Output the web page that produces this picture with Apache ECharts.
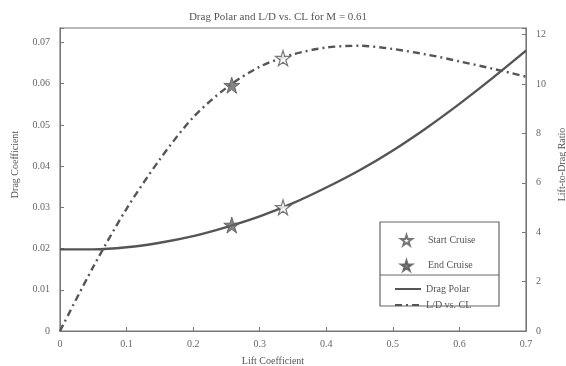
<!DOCTYPE html>
<html>
<head>
<meta charset="utf-8">
<script src="https://cdn.jsdelivr.net/npm/echarts@6/dist/echarts.min.js"></script>
<style>
  html, body { margin: 0; padding: 0; background: #fff; }
  #main { width: 566px; height: 366px; }
</style>
</head>
<body>
<div id="main"></div>
<script>
// lift coefficient samples
var liftCoef = [0, 0.05, 0.1, 0.15, 0.2, 0.25, 0.3, 0.35, 0.4, 0.45, 0.5, 0.55, 0.6, 0.65, 0.7];
var dragPolar = [0.0198, 0.0198, 0.0203, 0.0214, 0.0230, 0.0252, 0.0278, 0.0310, 0.0348, 0.0390, 0.0438, 0.0492, 0.0551, 0.0614, 0.0680];
var liftToDrag = [0, 2.6, 4.95, 6.95, 8.65, 9.85, 10.7, 11.2, 11.48, 11.55, 11.42, 11.2, 10.92, 10.62, 10.3];
// cruise points [CL, CD, L/D]
var startCruise = [0.335, 0.0300, 11.05];
var endCruise = [0.258, 0.0257, 9.95];

var starPath = 'path://M50,0 L61,35 L98,35 L68,57 L79,91 L50,70 L21,91 L32,57 L2,35 L39,35 Z';
var ink = '#555';
var serif = 'Liberation Serif';

function pairs(ys) {
    return liftCoef.map(function (x, i) { return [x, ys[i]]; });
}

var chart = echarts.init(document.getElementById('main'));
var option = {
    animation: false,
    backgroundColor: '#fff',
    textStyle: { fontFamily: serif },
    title: {
        text: 'Drag Polar and L/D vs. CL for M = 0.61',
        left: 273, top: 7, textAlign: 'center',
        textStyle: { fontFamily: serif, fontSize: 11, fontWeight: 'normal', color: ink }
    },
    grid: {
        left: 60, right: 40, top: 28, bottom: 35,
        outerBoundsMode: 'none', containLabel: false,
        show: true, borderColor: '#777', borderWidth: 1.2
    },
    legend: [
        {
            data: ['Start Cruise', 'End Cruise'],
            orient: 'vertical', left: 395, top: 229,
            itemWidth: 11, itemHeight: 11, itemGap: 13,
            textStyle: { fontFamily: serif, fontSize: 10, color: ink, padding: [0, 0, 0, 11] }
        },
        {
            data: ['Drag Polar', 'L/D vs. CL'],
            orient: 'vertical', left: 389, top: 279,
            itemWidth: 26, itemHeight: 8, itemGap: 6,
            itemStyle: { opacity: 0 },
            textStyle: { fontFamily: serif, fontSize: 10, color: ink }
        }
    ],
    graphic: [
        { type: 'rect', shape: { x: 380, y: 222, width: 119, height: 84 },
          style: { fill: '#fff', stroke: '#666', lineWidth: 1.2 }, z: 0 },
        { type: 'line', shape: { x1: 380, y1: 275, x2: 499, y2: 275 },
          style: { stroke: '#666', lineWidth: 1 }, z: 1 }
    ],
    xAxis: {
        type: 'value', min: 0, max: 0.7, interval: 0.1,
        name: 'Lift Coefficient', nameLocation: 'middle', nameGap: 25,
        nameTextStyle: { fontFamily: serif, fontSize: 10, color: ink, padding: [0, 40, 0, 0] },
        axisLine: { lineStyle: { color: '#777' } },
        axisTick: { inside: true, length: 4, lineStyle: { color: '#777' } },
        axisLabel: { fontFamily: serif, fontSize: 10, color: '#666', margin: 8 },
        splitLine: { show: false }
    },
    yAxis: [
        {
            type: 'value', min: 0, max: 0.0735, interval: 0.01,
            name: 'Drag Coefficient', nameLocation: 'middle', nameGap: 40,
            nameTextStyle: { fontFamily: serif, fontSize: 10, color: ink, padding: [0, 0, 0, 30] },
            axisLine: { show: true, lineStyle: { color: '#777' } },
            axisTick: { inside: true, length: 4, lineStyle: { color: '#777' } },
            axisLabel: {
                fontFamily: serif, fontSize: 10, color: '#666', margin: 10,
                formatter: function (v) {
                    if (Math.abs(v * 100 - Math.round(v * 100)) > 1e-6) return '';
                    return v === 0 ? '0' : v.toFixed(2);
                }
            },
            splitLine: { show: false }
        },
        {
            type: 'value', min: 0, max: 12.27, interval: 2,
            name: 'Lift-to-Drag Ratio', nameLocation: 'middle', nameGap: 30,
            nameTextStyle: { fontFamily: serif, fontSize: 10, color: ink, padding: [0, 0, 0, 30] },
            axisLine: { show: true, lineStyle: { color: '#777' } },
            axisTick: { inside: true, length: 4, lineStyle: { color: '#777' } },
            axisLabel: {
                fontFamily: serif, fontSize: 10, color: '#666', margin: 10,
                formatter: function (v) {
                    return (Math.abs(v / 2 - Math.round(v / 2)) > 1e-6) ? '' : String(v);
                }
            },
            splitLine: { show: false }
        }
    ],
    series: [
        {
            name: 'Drag Polar', type: 'line', yAxisIndex: 0, smooth: 0.3,
            symbol: 'none', data: pairs(dragPolar),
            lineStyle: { color: ink, width: 2.4 }, itemStyle: { color: ink }, z: 2
        },
        {
            name: 'L/D vs. CL', type: 'line', yAxisIndex: 1, smooth: 0.3,
            symbol: 'none', data: pairs(liftToDrag),
            lineStyle: { color: ink, width: 2.4, type: [7, 4, 2, 4] }, itemStyle: { color: ink }, z: 2
        },
        {
            name: 'Start Cruise', type: 'scatter', yAxisIndex: 0, symbol: starPath, symbolSize: 15,
            data: [[startCruise[0], startCruise[1]]],
            itemStyle: { color: '#fff', borderColor: ink, borderWidth: 1.2 }, z: 5
        },
        {
            name: 'Start Cruise', type: 'scatter', yAxisIndex: 1, symbol: starPath, symbolSize: 15,
            data: [[startCruise[0], startCruise[2]]],
            itemStyle: { color: '#fff', borderColor: ink, borderWidth: 1.2 }, z: 5
        },
        {
            name: 'End Cruise', type: 'scatter', yAxisIndex: 0, symbol: starPath, symbolSize: 16,
            data: [[endCruise[0], endCruise[1]]],
            itemStyle: { color: '#666', borderColor: '#555', borderWidth: 1 }, z: 5
        },
        {
            name: 'End Cruise', type: 'scatter', yAxisIndex: 1, symbol: starPath, symbolSize: 16,
            data: [[endCruise[0], endCruise[2]]],
            itemStyle: { color: '#666', borderColor: '#555', borderWidth: 1 }, z: 5
        }
    ]
};
chart.setOption(option);
window.addEventListener('resize', function () {
    chart.resize();
});
</script>
</body>
</html>
